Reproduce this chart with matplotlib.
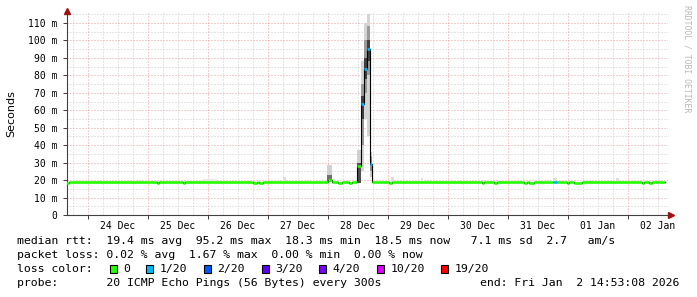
import numpy as np
import matplotlib.pyplot as plt
from matplotlib.patches import Rectangle

# time in days since 23 Dec 2025 00:00
t_start = 0.62
t_end = 10.62
t = [0.62, 0.68, 2.15, 2.18, 2.58, 2.62, 3.75, 3.82, 3.85, 3.92,
     5.00, 5.06, 5.17, 5.23, 5.35, 5.40, 5.483, 5.55, 5.60, 5.65,
     5.70, 5.733, 6.02, 6.07, 7.56, 7.60, 7.76, 7.82, 8.26, 8.32,
     8.35, 8.43, 8.755, 8.82, 8.98, 9.02, 9.10, 9.23, 10.23, 10.27,
     10.35, 10.40]
median_ms = [18.3, 18.9, 18.3, 18.9, 18.3, 18.9, 18.3, 18.9, 18.3, 18.9,
             20.0, 18.9, 18.3, 18.9, 18.3, 18.9, 28.0, 63.6, 83.7, 95.2,
             29.0, 18.9, 18.3, 18.9, 18.3, 18.9, 18.3, 18.9, 18.3, 18.9,
             18.3, 18.9, 18.9, 18.9, 18.3, 18.9, 18.3, 18.9, 18.3, 18.9,
             18.3, 18.9]
loss = [0, 0, 0, 0, 0, 0, 0, 0, 0, 0,
        0, 0, 0, 0, 0, 0, 0, 1, 1, 1,
        1, 0, 0, 0, 0, 0, 0, 0, 0, 0,
        0, 0, 1, 0, 0, 0, 0, 0, 0, 0,
        0, 0]

# smoke (spread of the 20 pings)
smoke_t0 = [2.92, 4.25, 4.98, 4.98, 5.483, 5.483, 5.55, 5.55, 5.55, 5.60, 5.60, 5.60,
            5.65, 5.65, 5.65, 5.70, 5.70, 6.05, 6.55, 8.75, 9.80]
smoke_t1 = [3.15, 4.30, 5.07, 5.07, 5.55, 5.55, 5.60, 5.60, 5.60, 5.65, 5.65, 5.65,
            5.70, 5.70, 5.70, 5.733, 5.733, 6.10, 6.58, 8.82, 9.85]
smoke_lo = [18.9, 18.9, 18.9, 18.9, 18.5, 18.5, 25.0, 40.0, 55.0, 55.0, 70.0, 78.0,
            45.0, 80.0, 88.0, 22.0, 25.0, 18.9, 18.9, 18.9, 18.9]
smoke_hi = [20.5, 21.8, 28.5, 23.0, 37.0, 30.0, 88.0, 75.0, 68.0, 110.0, 100.0, 90.0,
            115.0, 108.0, 100.0, 36.0, 33.0, 21.5, 21.0, 21.0, 21.2]
smoke_shade = ['#e8e8e8', '#dddddd', '#d0d0d0', '#707070', '#d0d0d0', '#505050',
               '#d4d4d4', '#9a9a9a', '#404040', '#d4d4d4', '#9a9a9a', '#404040',
               '#d4d4d4', '#9a9a9a', '#404040', '#cccccc', '#909090',
               '#dddddd', '#e0e0e0', '#dddddd', '#dddddd']

loss_labels = ['0', '1/20', '2/20', '3/20', '4/20', '10/20', '19/20']
loss_colors = ['#26ff00', '#00b8ff', '#0059ff', '#5e00ff', '#7e00ff', '#dd00ff', '#ff0000']

day_labels = ['24 Dec', '25 Dec', '26 Dec', '27 Dec', '28 Dec',
              '29 Dec', '30 Dec', '31 Dec', '01 Jan', '02 Jan']

line1 = 'median rtt:  19.4 ms avg  95.2 ms max  18.3 ms min  18.5 ms now   7.1 ms sd  2.7   am/s'
line2 = 'packet loss: 0.02 % avg  1.67 % max  0.00 % min  0.00 % now'
line4 = 'probe:       20 ICMP Echo Pings (56 Bytes) every 300s'
end_text = 'end: Fri Jan  2 14:53:08 2026'

W, H = 697, 297
def fx(px):
    return px / W
def fy(py):
    return 1 - py / H

mono = 'DejaVu Sans Mono'
fig = plt.figure(figsize=(W / 100, H / 100), dpi=100)
ax = fig.add_axes([fx(67), fy(215), (668 - 67) / W, (215 - 13) / H])
ax.set_xlim(0.65, 10.667)
ax.set_ylim(0, 115.7)

# grid
dot = (0, (1, 2))
minor_x = [d / 4 for d in range(3, 43) if d % 4 != 0]
ax.vlines(minor_x, 0, 115.7, colors='#cccccc', lw=0.72, linestyles=dot, zorder=0)
ax.vlines(range(1, 11), 0, 115.7, colors='#e8a0a0', lw=0.72, linestyles=dot, zorder=0)
ax.hlines(np.arange(5, 116, 10), 0.65, 10.667, colors='#cccccc', lw=0.72, linestyles=dot, zorder=0)
ax.hlines(np.arange(10, 111, 10), 0.65, 10.667, colors='#e8a0a0', lw=0.72, linestyles=dot, zorder=0)

# smoke
s_lo = np.array(smoke_lo)
s_hi = np.array(smoke_hi)
ax.bar(smoke_t0, s_hi - s_lo, bottom=s_lo, width=np.array(smoke_t1) - np.array(smoke_t0),
       align='edge', color=smoke_shade, linewidth=0, zorder=1)

# median
t_all = t + [t_end]
m_all = median_ms + [median_ms[-1]]
ax.step(t_all, m_all, where='post', color='black', lw=0.8, zorder=2)
ax.hlines(median_ms, t, t[1:] + [t_end], colors=[loss_colors[l] for l in loss],
          lw=1.9, capstyle='butt', zorder=3)

# axes
for s in ['top', 'right']:
    ax.spines[s].set_visible(False)
for s in ['left', 'bottom']:
    ax.spines[s].set_color('#404040')
    ax.spines[s].set_linewidth(0.8)

yt = list(range(0, 111, 10))
ax.set_yticks(yt, ['0'] + ['%d m' % v for v in yt[1:]])
ax.set_xticks(range(1, 11), [''] * 10)
ax.set_xticks([d + 0.5 for d in range(1, 11)], day_labels, minor=True)
ax.tick_params(axis='y', which='major', length=3, width=0.72, color='#404040',
               pad=4, labelsize=7, labelfontfamily=mono)
ax.tick_params(axis='x', which='major', length=3, width=0.72, color='#404040')
ax.tick_params(axis='x', which='minor', length=0, pad=4, labelsize=7, labelfontfamily=mono)

# arrows
ax.plot([fx(67)], [fy(10.5)], transform=fig.transFigure, marker='^', ms=4.5,
        color='#a01010', clip_on=False, lw=0)
ax.plot([fx(671)], [fy(215)], transform=fig.transFigure, marker='>', ms=4.5,
        color='#a01010', clip_on=False, lw=0)

fig.text(fx(11), fy(114), 'Seconds', rotation=90, ha='center', va='center',
         fontsize=8, family='DejaVu Sans')
fig.text(fx(687), fy(59), 'RRDTOOL / TOBI OETIKER', rotation=270, ha='center',
         va='center', fontsize=5.9, family=mono, color='#b8b8b8')

# legend
fs = 8.25
fig.text(fx(17), fy(241), line1, ha='left', va='center', fontsize=fs, family=mono)
fig.text(fx(17), fy(255), line2, ha='left', va='center', fontsize=fs, family=mono)
fig.text(fx(17), fy(269), 'loss color:', ha='left', va='center', fontsize=fs, family=mono)
x = 109.5
for lab, col in zip(loss_labels, loss_colors):
    fig.patches.append(Rectangle((fx(x), fy(273)), 7 / W, 8 / H, transform=fig.transFigure,
                                 facecolor=col, edgecolor='black', lw=0.8))
    fig.text(fx(x + 13.5), fy(269), lab, ha='left', va='center', fontsize=fs, family=mono)
    x += 30 + 6.9 * len(lab)
fig.text(fx(17), fy(283), line4, ha='left', va='center', fontsize=fs, family=mono)
fig.text(fx(679), fy(283), end_text, ha='right', va='center', fontsize=fs, family=mono)

fig.savefig('out.png', dpi=100)
